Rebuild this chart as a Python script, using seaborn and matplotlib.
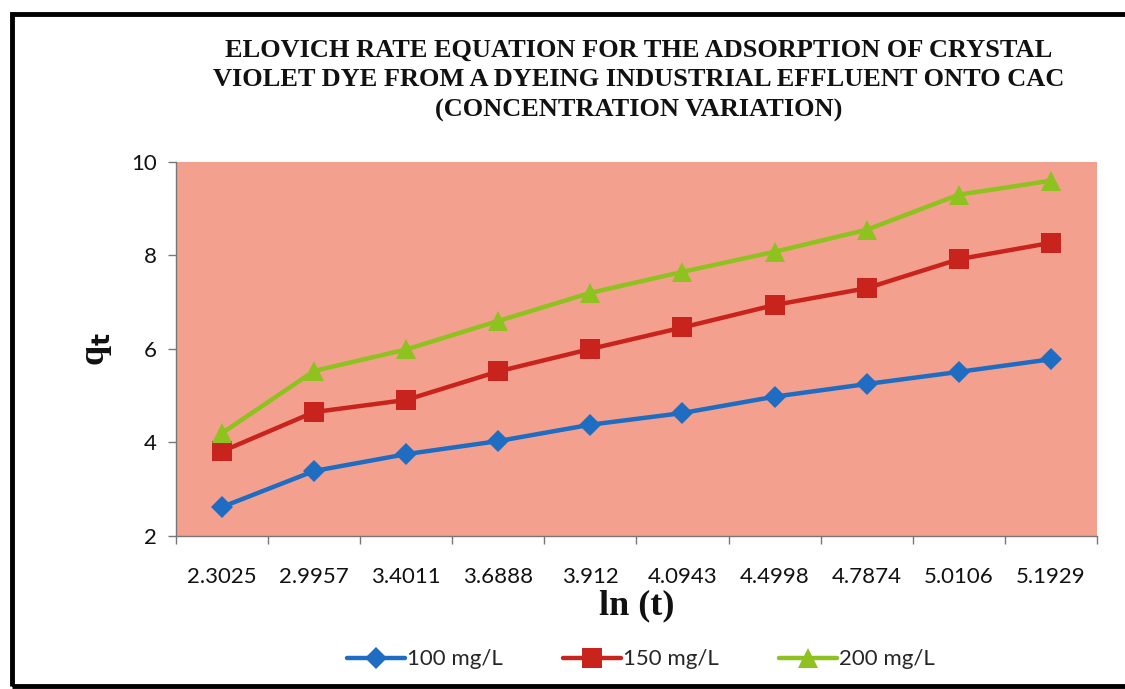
import matplotlib
matplotlib.use("Agg")
import matplotlib.pyplot as plt
from matplotlib.patches import Rectangle
from matplotlib.ticker import FixedLocator, NullFormatter
import seaborn as sns
import pandas as pd

ln_t = ["2.3025", "2.9957", "3.4011", "3.6888", "3.912", "4.0943", "4.4998", "4.7874", "5.0106", "5.1929"]
q_100 = [2.62, 3.39, 3.75, 4.03, 4.38, 4.63, 4.98, 5.25, 5.51, 5.78]
q_150 = [3.81, 4.65, 4.91, 5.52, 6.00, 6.46, 6.94, 7.30, 7.92, 8.27]
q_200 = [4.20, 5.53, 5.99, 6.60, 7.20, 7.65, 8.08, 8.55, 9.30, 9.60]
series_names = ["100 mg/L", "150 mg/L", "200 mg/L"]
yticks = [2, 4, 6, 8, 10]

df = pd.concat([
    pd.DataFrame({"ln_t": ln_t, "qt": vals, "series": name})
    for name, vals in zip(series_names, [q_100, q_150, q_200])
], ignore_index=True)

sns.set_theme(style="white")
plt.rcParams["font.family"] = ["Lato", "DejaVu Sans"]

fig = plt.figure(figsize=(11.25, 6.89), dpi=100)
ax = fig.add_axes([0.1564, 0.2221, 0.8186, 0.5428])
ax.set_facecolor("#F4A08F")

palette = {"100 mg/L": "#1E6DC2", "150 mg/L": "#C9231D", "200 mg/L": "#8DC21F"}
markers = {"100 mg/L": "D", "150 mg/L": "s", "200 mg/L": "^"}
sizes = {"100 mg/L": 11.5, "150 mg/L": 14, "200 mg/L": 14}

for name in series_names:
    sub = df[df["series"] == name]
    sns.lineplot(data=sub, x="ln_t", y="qt", ax=ax, color=palette[name],
                 marker=markers[name], markersize=sizes[name], linewidth=3.2,
                 markeredgewidth=0, label=name, sort=False)

n = len(ln_t)
ax.set_xlim(-0.5, n - 0.5)
ax.set_ylim(2, 10)
ax.set_yticks(yticks)
ax.set_xticks(range(n))
ax.set_xticklabels(ln_t)
ax.xaxis.set_minor_locator(FixedLocator([i - 0.5 for i in range(n + 1)]))
ax.xaxis.set_minor_formatter(NullFormatter())
ax.tick_params(axis="x", which="major", length=0, pad=22, labelsize=16, colors="#111111")
ax.tick_params(axis="x", which="minor", length=6, width=1, color="#777777", bottom=True)
ax.tick_params(axis="y", which="major", length=6, width=1, color="#777777", left=True,
               labelsize=16, pad=8, labelcolor="#111111")

for side in ["top", "right"]:
    ax.spines[side].set_visible(False)
for side in ["left", "bottom"]:
    ax.spines[side].set_color("#777777")
    ax.spines[side].set_linewidth(1)

ax.set_xlabel("ln (t)", family="Liberation Serif", fontweight="bold", fontsize=26,
              labelpad=2, color="#111111")
ax.set_ylabel("q$_\\mathbf{t}$", family="Liberation Serif", fontweight="bold", fontsize=26,
              labelpad=12, color="#111111")

fig.text(0.568, 0.944, "ELOVICH RATE EQUATION FOR THE ADSORPTION OF CRYSTAL\n"
         "VIOLET DYE FROM A DYEING INDUSTRIAL EFFLUENT ONTO CAC\n"
         "(CONCENTRATION VARIATION)",
         ha="center", va="top", family="Liberation Serif", fontweight="bold",
         fontsize=19, linespacing=1.38, color="#111111")

leg = ax.legend(loc="center", bbox_to_anchor=(0.505, -0.33), ncol=3, frameon=False,
                fontsize=16, handlelength=2.6, columnspacing=2.7, handletextpad=0.1)

fig.patches.append(Rectangle((0.0107, 0.004), 1.05, 0.9757, transform=fig.transFigure,
                             fill=False, edgecolor="black", linewidth=3.5))

fig.savefig("out.png", dpi=100)
